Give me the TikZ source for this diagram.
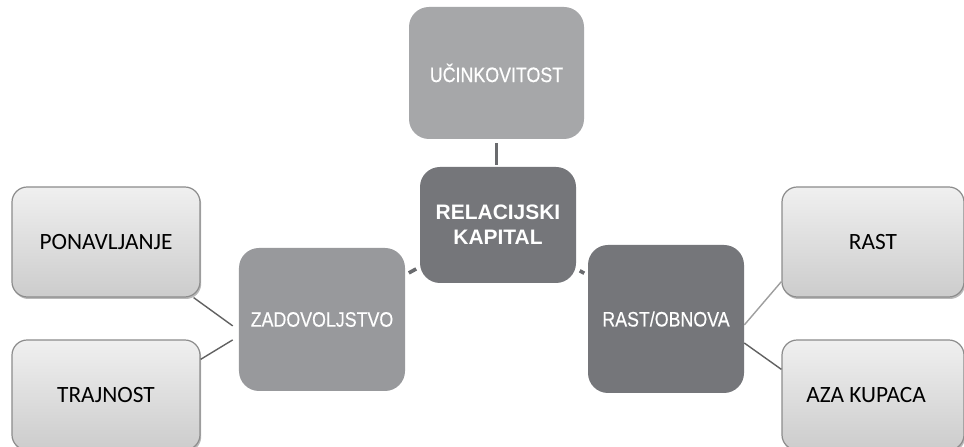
\documentclass[tikz,border=0pt]{standalone}
\usepackage{fontspec}
\setmainfont{Liberation Sans}
\newfontfamily\narrowsans[FakeStretch=0.85,FakeBold=0.4]{Liberation Sans}
\newfontfamily\calibrisans{Carlito}
\usetikzlibrary{positioning,shadows}

\definecolor{darkbox}{HTML}{75767A}
\definecolor{midbox}{HTML}{98999C}
\definecolor{topbox}{HTML}{A6A7A9}
\definecolor{leafline}{HTML}{8C8C8C}
\definecolor{linkgray}{HTML}{6A6B6E}

\begin{document}
\begin{tikzpicture}[
    x=0.25mm, y=-0.25mm,
    hub/.style={draw=none, rounded corners=5mm, text=white, align=center,
                font=\narrowsans\fontsize{14.9pt}{17.7pt}\selectfont},
    leaf/.style={draw=leafline, line width=0.3mm, rounded corners=3.8mm,
                 top color=black!6, bottom color=black!20,
                 drop shadow={shadow xshift=0.3mm, shadow yshift=-0.5mm,
                              opacity=0.45, fill=black!60},
                 minimum width=47mm, minimum height=27.5mm, align=center,
                 font=\calibrisans\fontsize{16.6pt}{19pt}\selectfont},
    link/.style={linkgray, line width=0.9mm},
    twig/.style={black!62, line width=0.35mm}
]
\useasboundingbox[fill=white] (0,0) rectangle (964,447);

% middle column
\node[hub, fill=topbox, minimum width=43.75mm, minimum height=33mm]
    (efficiency) at (496.5,73) {UČINKOVITOST};
\node[hub, fill=darkbox, minimum width=39mm, minimum height=29mm,
      font=\bfseries\fontsize{14.9pt}{17.7pt}\selectfont]
    (capital) at (498,225) {RELACIJSKI\\KAPITAL};
\node[hub, fill=midbox, minimum width=41.5mm, minimum height=35.75mm]
    (satisfaction) at (322,319.5) {ZADOVOLJSTVO};
\node[hub, fill=darkbox, minimum width=39mm, minimum height=37mm]
    (renewal) at (666,319) {RAST/OBNOVA};

% leaves
\node[leaf] (repeat) at (106,242) {PONAVLJANJE};
\node[leaf] (durability) at (106,395) {TRAJNOST};
\node[leaf, minimum width=45.5mm] (growth) at (873,242) {RAST};
\node[leaf, minimum width=45.5mm] (customers) at (873,395)
    {\hspace*{-3.5mm}AZA KUPACA};

% connectors
\draw[link] ([yshift=-1mm]efficiency.south)
    -- ([yshift=0.5mm]efficiency.south |- capital.north);
\draw[link, shorten <=1mm, shorten >=1mm] (capital) -- (satisfaction);
\draw[link, shorten <=1mm, shorten >=1mm] (capital) -- (renewal);

\draw[twig] ([xshift=-1.75mm]repeat.south east)
    -- ([xshift=-1.5mm,yshift=-1.6mm]satisfaction.west);
\draw[twig] ([yshift=-5mm]durability.north east)
    -- ([xshift=-1.5mm,yshift=-5.1mm]satisfaction.west);
\draw[twig, black!38] ([yshift=-1.5mm]renewal.east)
    -- ([yshift=4mm]growth.south west);
\draw[twig] ([yshift=-6mm]renewal.east)
    -- ([yshift=-7.5mm]customers.north west);
\end{tikzpicture}
\end{document}
